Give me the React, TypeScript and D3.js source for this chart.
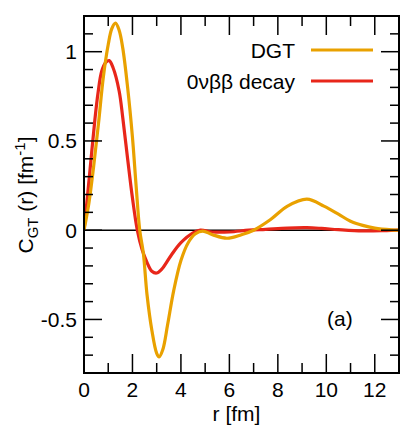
import React, { useRef, useEffect } from 'react';
import * as d3 from 'd3';

// DGT curve (orange)
const dgtR = [0, 0.2, 0.4, 0.6, 0.8, 1.0, 1.15, 1.3, 1.45, 1.6, 1.8, 2.0, 2.15, 2.3, 2.45, 2.6, 2.8, 3.0, 3.1, 3.25, 3.45, 3.7, 4.0, 4.3, 4.6, 4.9, 5.3, 5.9, 6.5, 7.0, 7.7, 8.4, 9.2, 9.9, 10.5, 11.0, 11.5, 12.0, 12.7, 13];
const dgtC = [0, 0.15, 0.36, 0.6, 0.86, 1.04, 1.13, 1.16, 1.12, 1.02, 0.8, 0.52, 0.25, 0, -0.13, -0.36, -0.56, -0.69, -0.71, -0.67, -0.53, -0.34, -0.17, -0.07, -0.02, -0.005, -0.025, -0.045, -0.025, 0, 0.06, 0.135, 0.174, 0.135, 0.09, 0.05, 0.027, 0.012, 0.002, 0];

// 0vbb decay curve (red)
const dbdR = [0, 0.1, 0.25, 0.45, 0.58, 0.73, 0.9, 1.04, 1.2, 1.45, 1.6, 1.8, 2.0, 2.2, 2.4, 2.6, 2.8, 3.0, 3.2, 3.6, 4.0, 4.5, 4.8, 5.3, 6.0, 6.8, 7.5, 8.4, 9.2, 9.8, 10.5, 11.5, 12.5, 13];
const dbdC = [0, 0.13, 0.34, 0.62, 0.77, 0.89, 0.94, 0.95, 0.91, 0.78, 0.63, 0.4, 0.18, 0, -0.11, -0.18, -0.23, -0.24, -0.22, -0.14, -0.07, -0.015, 0, -0.01, -0.01, 0, 0.005, 0.012, 0.014, 0.01, 0.003, -0.004, -0.002, 0];

const xTicks = [0, 2, 4, 6, 8, 10, 12];
const yTicks = [-0.5, 0, 0.5, 1];
const legendNames = ['DGT', '0νββ decay'];
const colors = ['#E9A100', '#E8261A'];

const App = () => {
  const chartRef = useRef(null);

  useEffect(() => {
    document.body.style.margin = '0';
    const width = 401;
    const height = 430;
    const margin = { top: 16, right: 2, bottom: 57, left: 84 };
    const w = width - margin.left - margin.right;
    const h = height - margin.top - margin.bottom;

    d3.select(chartRef.current).selectAll('*').remove();

    const root = d3.select(chartRef.current)
      .append('svg')
      .attr('width', width)
      .attr('height', height)
      .style('display', 'block')
      .style('font-family', 'Liberation Sans, Arial, sans-serif');

    root.append('defs').append('clipPath').attr('id', 'plotclip')
      .append('rect').attr('width', w).attr('height', h);

    const svg = root.append('g')
      .attr('transform', `translate(${margin.left},${margin.top})`);

    const x = d3.scaleLinear().domain([0, 13]).range([0, w]);
    const y = d3.scaleLinear().domain([-0.8, 1.2]).range([h, 0]);

    // zero line
    svg.append('line')
      .attr('x1', 0).attr('x2', w)
      .attr('y1', y(0)).attr('y2', y(0))
      .attr('stroke', '#000').attr('stroke-width', 1.5);

    const line = d3.line<number>()
      .x(d => x(d[0]))
      .y(d => y(d[1]))
      .curve(d3.curveCatmullRom.alpha(0.5));

    const series = [
      d3.zip(dgtR, dgtC),
      d3.zip(dbdR, dbdC),
    ];

    // red below orange
    [1, 0].forEach(i => {
      svg.append('path')
        .datum(series[i])
        .attr('clip-path', 'url(#plotclip)')
        .attr('fill', 'none')
        .attr('stroke', colors[i])
        .attr('stroke-width', 3.2)
        .attr('stroke-linejoin', 'round')
        .attr('d', line);
    });

    // frame
    svg.append('rect')
      .attr('width', w).attr('height', h)
      .attr('fill', 'none').attr('stroke', '#000').attr('stroke-width', 2);

    // x ticks (top and bottom, inward)
    const xMinor = d3.range(0, 14, 1);
    xMinor.forEach(v => {
      const len = v % 2 === 0 ? 19 : 10;
      svg.append('line').attr('x1', x(v)).attr('x2', x(v)).attr('y1', h).attr('y2', h - len)
        .attr('stroke', '#000').attr('stroke-width', 1.5);
      svg.append('line').attr('x1', x(v)).attr('x2', x(v)).attr('y1', 0).attr('y2', len)
        .attr('stroke', '#000').attr('stroke-width', 1.5);
    });

    // y ticks (left and right, inward)
    const yMinor = d3.range(-8, 13, 1).map(v => v / 10);
    yMinor.forEach(v => {
      const major = Math.abs(Math.round(v * 10) % 5) === 0;
      const len = major ? 18 : 9;
      svg.append('line').attr('x1', 0).attr('x2', len).attr('y1', y(v)).attr('y2', y(v))
        .attr('stroke', '#000').attr('stroke-width', 1.5);
      svg.append('line').attr('x1', w).attr('x2', w - len).attr('y1', y(v)).attr('y2', y(v))
        .attr('stroke', '#000').attr('stroke-width', 1.5);
    });

    // tick labels
    svg.selectAll('.xl').data(xTicks).enter().append('text')
      .attr('x', d => x(d)).attr('y', h + 24)
      .attr('text-anchor', 'middle').attr('font-size', 21)
      .text(d => d);

    svg.selectAll('.yl').data(yTicks).enter().append('text')
      .attr('x', -7).attr('y', d => y(d) + 7.5)
      .attr('text-anchor', 'end').attr('font-size', 21)
      .text(d => d);

    // axis titles
    svg.append('text')
      .attr('x', x(6.5) - 5).attr('y', h + 48)
      .attr('text-anchor', 'middle').attr('font-size', 21)
      .text('r [fm]');

    const yt = root.append('text')
      .attr('transform', 'translate(33,195) rotate(-90)')
      .attr('text-anchor', 'middle').attr('font-size', 21);
    yt.append('tspan').text('C');
    yt.append('tspan').attr('font-size', 15).attr('dy', 5).text('GT');
    yt.append('tspan').attr('dy', -5).text(' (r) [fm');
    yt.append('tspan').attr('font-size', 15).attr('dy', -8).text('-1');
    yt.append('tspan').attr('dy', 8).text(']');

    // legend
    legendNames.forEach((name, i) => {
      const ly = 34 + i * 31;
      svg.append('text')
        .attr('x', 211).attr('y', ly + 8)
        .attr('text-anchor', 'end').attr('font-size', 21)
        .text(name);
      svg.append('line')
        .attr('x1', 227).attr('x2', 289).attr('y1', ly).attr('y2', ly)
        .attr('stroke', colors[i]).attr('stroke-width', 3);
    });

    svg.append('text')
      .attr('x', 243).attr('y', 310)
      .attr('font-size', 21)
      .text('(a)');
  }, []);

  return <div ref={chartRef}></div>;
};

export default App;
